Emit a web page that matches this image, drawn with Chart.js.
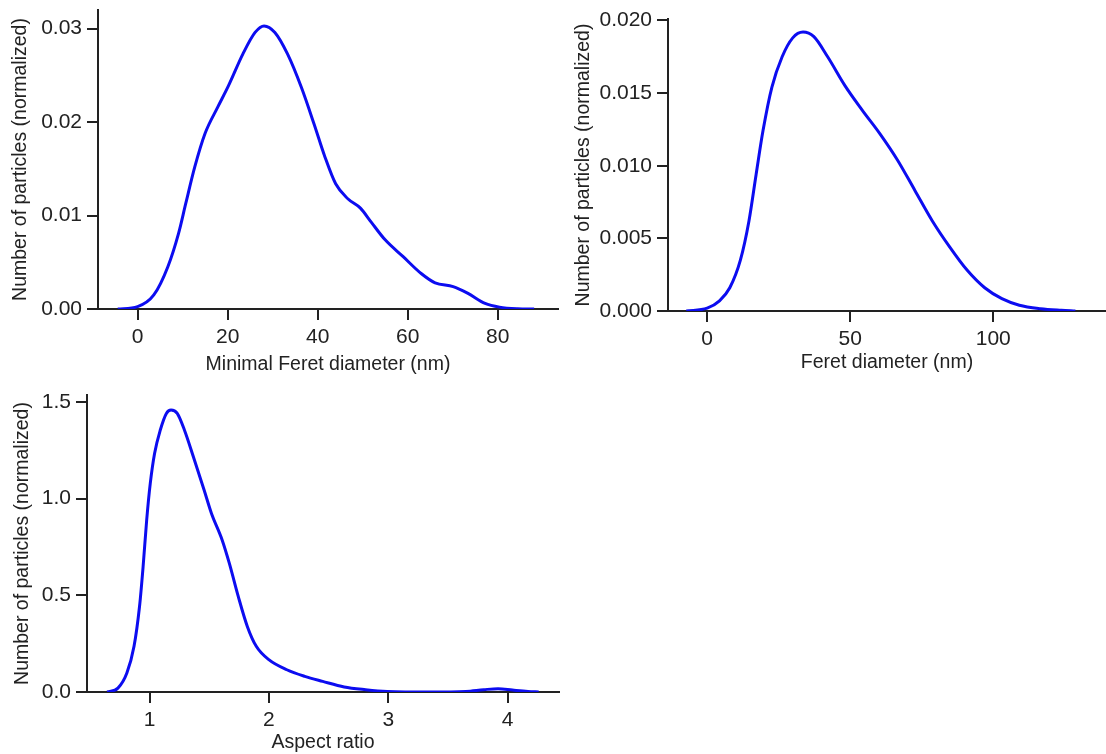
<!DOCTYPE html>
<html>
<head>
<meta charset="utf-8">
<script src="https://cdn.jsdelivr.net/npm/chart.js@4.4.1/dist/chart.umd.min.js"></script>
<style>
  body { margin: 0; background: #fff; width: 1106px; height: 754px; position: relative; overflow: hidden; }
  canvas { position: absolute; }
</style>
</head>
<body>
<canvas id="minFeretChart" width="560" height="380" style="left:0px;top:0px"></canvas>
<canvas id="feretChart" width="546" height="380" style="left:560px;top:0px"></canvas>
<canvas id="aspectChart" width="560" height="374" style="left:0px;top:380px"></canvas>
<script>
// KDE curves
const minFeretX = [-4.4, 0, 3.6, 6.7, 9.1, 10.7, 12.7, 15.0, 17.8, 20.2, 23.4, 26.1, 28.1, 30.5, 33.3, 36.4, 39.2, 41.6, 44.0, 46.7, 49.5, 51.9, 55.0, 59.0, 63.0, 66.1, 70.1, 73.3, 77.2, 80.4, 84.4, 88.1]
const minFeretY = [0, 0.00025, 0.0015, 0.0045, 0.0081, 0.0113, 0.0152, 0.0188, 0.0216, 0.0239, 0.0273, 0.0296, 0.0303, 0.0296, 0.0273, 0.0237, 0.0198, 0.0163, 0.0134, 0.0118, 0.0108, 0.0093, 0.0074, 0.0056, 0.0038, 0.0028, 0.0024, 0.0017, 0.0006, 0.0002, 0.00003, 0]

const feretX = [-7.3, 0, 4.3, 7.9, 11.6, 14.6, 17.1, 19.5, 22.6, 26.2, 29.9, 33.5, 37.2, 42.1, 48.2, 54.3, 60.4, 66.5, 72.6, 78.7, 84.8, 90.9, 97, 103, 109.1, 116.5, 123.8, 128.7]
const feretY = [0, 0.0002, 0.0007, 0.0016, 0.0035, 0.0062, 0.0094, 0.0124, 0.0154, 0.0175, 0.0188, 0.0192, 0.0189, 0.0175, 0.0155, 0.0138, 0.0122, 0.0104, 0.0083, 0.0062, 0.0044, 0.0028, 0.0016, 0.00085, 0.0004, 0.00016, 0.00005, 0]

const aspectX = [0.645, 0.735, 0.81, 0.87, 0.916, 0.946, 0.976, 1.006, 1.042, 1.09, 1.141, 1.18, 1.232, 1.292, 1.367, 1.457, 1.518, 1.608, 1.668, 1.743, 1.819, 1.894, 1.999, 2.15, 2.3, 2.45, 2.63, 2.81, 2.99, 3.35, 3.65, 3.8, 3.92, 4.04, 4.17, 4.26]
const aspectY = [0, 0.02, 0.098, 0.236, 0.442, 0.648, 0.889, 1.078, 1.233, 1.354, 1.44, 1.457, 1.44, 1.354, 1.216, 1.044, 0.924, 0.786, 0.666, 0.494, 0.339, 0.236, 0.167, 0.115, 0.081, 0.055, 0.026, 0.012, 0.003, 0, 0.003, 0.012, 0.017, 0.01, 0.003, 0]

// tick positions
const minFeretXTicks = [0, 20, 40, 60, 80]
const minFeretYTicks = [0, 0.01, 0.02, 0.03]
const feretXTicks = [0, 50, 100]
const feretYTicks = [0, 0.005, 0.01, 0.015, 0.02]
const aspectXTicks = [1, 2, 3, 4]
const aspectYTicks = [0, 0.5, 1.0, 1.5]

const yTitle = 'Number of particles (normalized)'
const axisColor = '#222222'
const lineColor = 'rgb(12, 12, 240)'
const fontFamily = '"Liberation Sans", Arial, sans-serif'

function toPoints(xs, ys) {
  return xs.map((x, i) => ({ x: x, y: ys[i] }))
}

function addChart(canvasId, xs, ys, s) {
  const ctx = document.getElementById(canvasId).getContext('2d')

  const config = {
    type: 'line',
    data: {
      datasets: [{
        data: toPoints(xs, ys),
        borderColor: lineColor,
        borderWidth: 3,
        pointRadius: 0,
        fill: false,
        cubicInterpolationMode: 'monotone',
      }]
    },
    options: {
      responsive: false,
      animation: false,
      events: [],
      layout: { padding: s.padding },
      plugins: {
        legend: { display: false },
        tooltip: { enabled: false },
      },
      scales: {
        x: {
          type: 'linear',
          min: s.xMin,
          max: s.xMax,
          border: { display: true, color: axisColor, width: 2 },
          grid: { drawOnChartArea: false, drawTicks: true, tickLength: 11, color: axisColor, lineWidth: 2 },
          ticks: {
            color: axisColor,
            padding: 5,
            maxRotation: 0,
            font: { family: fontFamily, size: 21 },
            callback: (v) => String(v),
          },
          afterBuildTicks: (scale) => { scale.ticks = s.xTicks.map(v => ({ value: v })) },
          afterFit: (scale) => {
            scale.height = s.xHeight
            scale.paddingLeft = 0
            scale.paddingRight = 0
          },
          title: {
            display: true,
            text: s.xTitle,
            color: axisColor,
            font: { family: fontFamily, size: 19.5 },
            padding: { top: 0, bottom: s.xTitlePad },
          },
        },
        y: {
          type: 'linear',
          min: 0,
          max: s.yMax,
          border: { display: true, color: axisColor, width: 2 },
          grid: { drawOnChartArea: false, drawTicks: true, tickLength: 11, color: axisColor, lineWidth: 2 },
          ticks: {
            color: axisColor,
            padding: 5,
            font: { family: fontFamily, size: 21 },
            callback: (v) => v.toFixed(s.yDecimals),
          },
          afterBuildTicks: (scale) => { scale.ticks = s.yTicks.map(v => ({ value: v })) },
          afterFit: (scale) => {
            scale.width = s.yWidth
            scale.paddingTop = 0
            scale.paddingBottom = 0
          },
          title: {
            display: true,
            text: yTitle,
            color: axisColor,
            font: { family: fontFamily, size: 19.5 },
            padding: { top: s.yTitlePad, bottom: 0 },
          },
        },
      },
    },
  }

  new Chart(ctx, config)
}

addChart('minFeretChart', minFeretX, minFeretY, {
  xMin: -8.8, xMax: 93.4, yMax: 0.032,
  xTicks: minFeretXTicks, yTicks: minFeretYTicks, yDecimals: 2,
  xTitle: 'Minimal Feret diameter (nm)',
  padding: { top: 10, right: 2, bottom: 0, left: 0 },
  yWidth: 98, xHeight: 71, xTitlePad: 4, yTitlePad: 9,
})

addChart('feretChart', feretX, feretY, {
  xMin: -13.7, xMax: 139.4, yMax: 0.0201,
  xTicks: feretXTicks, yTicks: feretYTicks, yDecimals: 3,
  xTitle: 'Feret diameter (nm)',
  padding: { top: 19, right: 0, bottom: 0, left: 0 },
  yWidth: 108, xHeight: 69, xTitlePad: 6, yTitlePad: 12,
})

addChart('aspectChart', aspectX, aspectY, {
  xMin: 0.476, xMax: 4.43, yMax: 1.535,
  xTicks: aspectXTicks, yTicks: aspectYTicks, yDecimals: 1,
  xTitle: 'Aspect ratio',
  padding: { top: 15, right: 1, bottom: 0, left: 0 },
  yWidth: 87, xHeight: 62, xTitlePad: 0, yTitlePad: 11,
})
</script>
</body>
</html>
